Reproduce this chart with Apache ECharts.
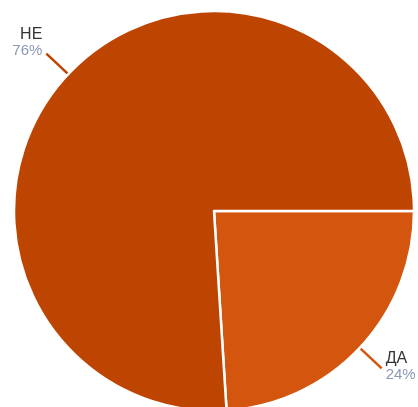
<!DOCTYPE html>
<html><head><meta charset="utf-8">
<script src="https://cdn.jsdelivr.net/npm/echarts@6/dist/echarts.min.js"></script>
<style>html,body{margin:0;padding:0;background:#fff}#c{width:418px;height:407px}</style>
</head><body><div id="c"></div>
<script>
const categories = ['ДА', 'НЕ'];
const values = [24, 76];
const colors = ['#D4550E', '#BE4401'];
const labelPad = [[0,0,4,0],[0,0,22,0]];

const chart = echarts.init(document.getElementById('c'), null, {renderer:'canvas'});
chart.setOption({
  animation: false,
  series: [{
    type: 'pie',
    center: [214, 211],
    radius: [0, 200],
    startAngle: 0,
    clockwise: true,
    avoidLabelOverlap: false,
    itemStyle: { borderColor: '#fff', borderWidth: 2.5 },
    label: {
      show: true,
      position: 'outside',
      formatter: '{n|{b}}\n{p|{d}%}',
      distanceToLabelLine: 4,
      rich: {
        n: { fontFamily: 'Liberation Sans, Arial, sans-serif', fontSize: 16, color: '#333333', lineHeight: 17 },
        p: { fontFamily: 'Liberation Sans, Arial, sans-serif', fontSize: 15, color: '#8d98b4', lineHeight: 16 }
      }
    },
    labelLine: { show: true, length: 30, length2: 0, smooth: false, lineStyle: { width: 2.5 } },
    data: categories.map((c, i) => ({
      name: c, value: values[i],
      itemStyle: { color: colors[i] },
      label: { padding: labelPad[i] }
    }))
  }]
});
</script></body></html>
